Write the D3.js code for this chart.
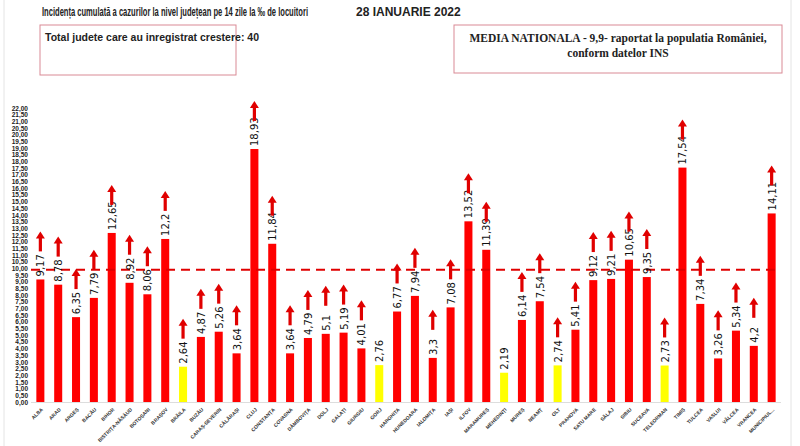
<!DOCTYPE html>
<html><head><meta charset="utf-8">
<script src="https://cdn.jsdelivr.net/npm/d3@7"></script>
<style>body{margin:0;background:#fff}svg{display:block}</style>
</head><body>
<script>
var judete = ["ALBA","ARAD","ARGEȘ","BACĂU","BIHOR","BISTRIȚA-NĂSĂUD","BOTOȘANI","BRAȘOV","BRĂILA","BUZĂU","CARAȘ-SEVERIN","CĂLĂRAȘI","CLUJ","CONSTANȚA","COVASNA","DÂMBOVIȚA","DOLJ","GALAȚI","GIURGIU","GORJ","HARGHITA","HUNEDOARA","IALOMIȚA","IAȘI","ILFOV","MARAMUREȘ","MEHEDINȚI","MUREȘ","NEAMȚ","OLT","PRAHOVA","SATU MARE","SĂLAJ","SIBIU","SUCEAVA","TELEORMAN","TIMIȘ","TULCEA","VASLUI","VÂLCEA","VRANCEA","MUNICIPIUL..."];
var valori = [9.17,8.78,6.35,7.79,12.65,8.92,8.06,12.2,2.64,4.87,5.26,3.64,18.93,11.84,3.64,4.79,5.1,5.19,4.01,2.76,6.77,7.94,3.3,7.08,13.52,11.39,2.19,6.14,7.54,2.74,5.41,9.12,9.21,10.65,9.35,2.73,17.54,7.34,3.26,5.34,4.2,14.11];
var etichete = ["9,17","8,78","6,35","7,79","12,65","8,92","8,06","12,2","2,64","4,87","5,26","3,64","18,93","11,84","3,64","4,79","5,1","5,19","4,01","2,76","6,77","7,94","3,3","7,08","13,52","11,39","2,19","6,14","7,54","2,74","5,41","9,12","9,21","10,65","9,35","2,73","17,54","7,34","3,26","5,34","4,2","14,11"];
var galbene = ["BRĂILA","GORJ","MEHEDINȚI","OLT","TELEORMAN"];
var faraCrestere = ["GORJ","MEHEDINȚI"];
var mediaNationala = 9.9;
var yTicks = d3.range(0, 22.01, 0.5);

var W = 800, H = 446;
var svg = d3.select("body").append("svg").attr("width", W).attr("height", H);
svg.append("rect").attr("x",0).attr("y",0).attr("width",W).attr("height",H).attr("fill","#fff");
svg.append("line").attr("x1",4).attr("x2",4).attr("y1",0).attr("y2",H).attr("stroke","#e4e4e4");
svg.append("line").attr("x1",791).attr("x2",791).attr("y1",0).attr("y2",H).attr("stroke","#e4e4e4");

var x = d3.scaleBand().domain(judete).range([31, 781]).paddingInner(0.55).paddingOuter(0.3);
var y = d3.scaleLinear().domain([0, 22]).range([402, 108]);

// titles
svg.append("text").attr("x",42).attr("y",16).attr("font-family","Liberation Sans Narrow, sans-serif")
  .attr("font-size","12px").attr("font-weight","bold").attr("fill","#222")
  .attr("textLength",266).attr("lengthAdjust","spacingAndGlyphs")
  .text("Incidența cumulată a cazurilor la nivel județean pe 14 zile la ‰ de locuitori");
svg.append("text").attr("x",356).attr("y",16).attr("font-family","Liberation Sans Narrow, sans-serif")
  .attr("font-size","12px").attr("font-weight","bold").attr("fill","#222").text("28 IANUARIE 2022");

svg.append("rect").attr("x",40).attr("y",25).attr("width",196).attr("height",50).attr("fill","none").attr("stroke","#d98a95");
svg.append("text").attr("x",45).attr("y",41).attr("font-family","Liberation Sans Narrow, sans-serif")
  .attr("font-size","10.5px").attr("font-weight","bold").attr("fill","#222").text("Total judete care au inregistrat crestere: 40");
svg.append("rect").attr("x",454).attr("y",25).attr("width",328).attr("height",48).attr("fill","none").attr("stroke","#d98a95");
svg.append("text").attr("x",618).attr("y",42).attr("text-anchor","middle").attr("font-family","Liberation Serif, serif")
  .attr("font-size","11.5px").attr("font-weight","bold").attr("fill","#222").text("MEDIA NATIONALA - 9,9-  raportat la populatia României,");
svg.append("text").attr("x",618).attr("y",57).attr("text-anchor","middle").attr("font-family","Liberation Serif, serif")
  .attr("font-size","11.5px").attr("font-weight","bold").attr("fill","#222").text("conform datelor INS");

// y axis
var yAxis = svg.append("g").attr("transform","translate(29,0)")
  .call(d3.axisLeft(y).tickValues(yTicks).tickSize(0).tickPadding(1).tickFormat(function(d){return d.toFixed(2).replace(".",",");}));
yAxis.select(".domain").remove();
yAxis.selectAll("text").attr("font-family","Liberation Sans Narrow, Arial Narrow, sans-serif").attr("font-size","6.5px").attr("font-weight","bold").attr("fill","#222");

svg.append("line").attr("x1",31).attr("x2",781).attr("y1",y(0)+0.5).attr("y2",y(0)+0.5).attr("stroke","#ddd");

// bars
svg.selectAll(".bar").data(judete).enter().append("rect")
  .attr("x", function(d){return x(d);}).attr("width", x.bandwidth())
  .attr("y", function(d,i){return y(valori[i]);})
  .attr("height", function(d,i){return y(0)-y(valori[i]);})
  .attr("fill", function(d){return galbene.indexOf(d)>=0 ? "#ffff00" : "#ff0000";});

// national average line
svg.append("line").attr("x1",31).attr("x2",781).attr("y1",y(mediaNationala)).attr("y2",y(mediaNationala))
  .attr("stroke","#e00000").attr("stroke-width",2).attr("stroke-dasharray","9,6");

// value labels (rotated)
svg.selectAll(".lbl").data(judete).enter().append("text")
  .attr("transform", function(d,i){return "translate("+(x(d)+x.bandwidth()/2+4)+","+(y(valori[i])-3)+") rotate(-90)";})
  .attr("font-family","DejaVu Sans, sans-serif").attr("font-size","10px").attr("fill","#111")
  .text(function(d,i){return etichete[i];});

// arrows
var arrows = svg.selectAll(".arr").data(judete.filter(function(d){return faraCrestere.indexOf(d)<0;})).enter().append("g")
  .attr("transform", function(d){var i=judete.indexOf(d);return "translate("+(x(d)+x.bandwidth()/2)+","+y(valori[i]+2.1)+")";});
arrows.append("rect").attr("x",-1.6).attr("y",-15).attr("width",3.2).attr("height",15).attr("fill","#e00000");
arrows.append("path").attr("d","M-4.5,-13 L0,-20 L4.5,-13 Z").attr("fill","#e00000");

// category labels
svg.selectAll(".cat").data(judete).enter().append("text")
  .attr("transform", function(d){return "translate("+(x(d)+x.bandwidth()/2+3)+","+410+") rotate(-45)";})
  .attr("text-anchor","end").attr("font-family","Liberation Sans Narrow, sans-serif")
  .attr("font-size","5px").attr("font-weight","bold").attr("fill","#333").text(function(d){return d;});
</script>
</body></html>
